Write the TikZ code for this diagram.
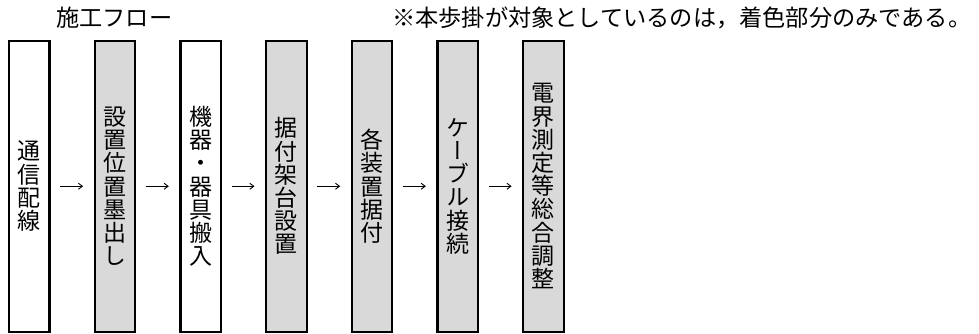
\documentclass[tikz,border=0pt]{standalone}
\usepackage{fontspec}
\setmainfont{Noto Sans CJK JP}
\newfontfamily\vertfont[RawFeature=+vert]{Noto Sans CJK JP}
\usetikzlibrary{arrows.meta,positioning}
\definecolor{tgtgray}{RGB}{217,217,217}

\begin{document}
\begin{tikzpicture}[
  x=1pt, y=1pt, font=\fontsize{23.2}{23.2}\selectfont, node distance=43pt,
  stepbox/.style={draw, line width=2.2pt, rectangle, minimum width=40.5pt, minimum height=291pt,
    inner sep=0pt, align=center, font=\vertfont\fontsize{23}{23.2}\selectfont},
  tgt/.style={stepbox, fill=tgtgray},
  arr/.style={-{Straight Barb[length=4pt,width=6pt]}, line width=0.9pt, shorten <=9.5pt, shorten >=10.5pt}
]
  \useasboundingbox (0,0) rectangle (979,-333);

  \node[anchor=west, inner sep=0pt] (ttl) at (56,-18) {施工フロー};
  \node[anchor=west, inner sep=0pt] (nte) at (392,-18) {※本歩掛が対象としているのは，着色部分のみである。};

  \node[stepbox] (tsn) at (29.25,-186.25) {通\\信\\配\\線};
  \node[tgt, right=of tsn] (sumi) {設\\置\\位\\置\\墨\\出\\し};
  \node[stepbox, right=of sumi] (hnu) {機\\器\\・\\器\\具\\搬\\入};
  \node[tgt, right=of hnu] (kdi) {据\\付\\架\\台\\設\\置};
  \node[tgt, right=of kdi] (sue) {各\\装\\置\\据\\付};
  \node[tgt, right=of sue] (cbl) {ケ\\ー\\ブ\\ル\\接\\続};
  \node[tgt, right=of cbl] (cho) {電\\界\\測\\定\\等\\総\\合\\調\\整};

  \draw[arr] (tsn) -- (sumi);
  \draw[arr] (sumi) -- (hnu);
  \draw[arr] (hnu) -- (kdi);
  \draw[arr] (kdi) -- (sue);
  \draw[arr] (sue) -- (cbl);
  \draw[arr] (cbl) -- (cho);
\end{tikzpicture}
\end{document}
